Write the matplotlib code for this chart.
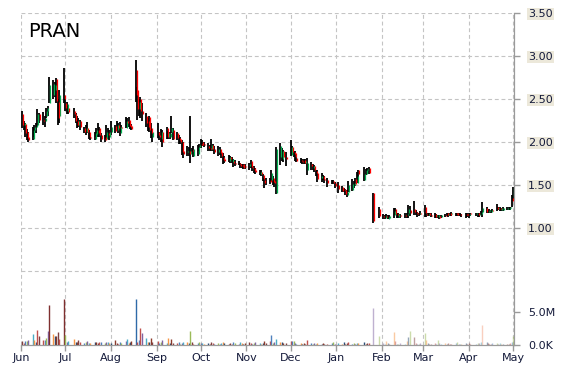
import pandas as pd
import matplotlib
matplotlib.use('Agg')
import matplotlib.pyplot as plt
from matplotlib.ticker import FuncFormatter, FixedLocator

ticker = 'PRAN'

# trading days Jun 2014 - May 2015 (holidays and days without data dropped)
holidays = ['2014-07-04', '2014-09-01', '2014-11-27', '2014-12-25', '2015-01-01',
            '2015-01-19', '2015-02-16', '2015-04-03']
missing_days = ['2015-01-27', '2015-01-28', '2015-01-29']

opens = [
    2.32, 2.20, 2.21, 2.12, 2.06, 2.03, 2.14, 2.18, 2.20, 2.32, 2.26, 2.24, 2.30, 2.36, 2.45, 2.55, 2.60, 2.73, 2.47, 2.30, 2.55,  # jun
    2.45, 2.36, 2.40, 2.36, 2.32, 2.25, 2.20, 2.24, 2.16, 2.12, 2.16, 2.12, 2.06, 2.04, 2.09, 2.14, 2.16, 2.08, 2.06, 2.04, 2.10, 2.06,  # jul
    2.12, 2.19, 2.14, 2.20, 2.10, 2.18, 2.16, 2.24, 2.26, 2.20, 2.19, 2.84, 2.60, 2.38, 2.50, 2.36, 2.30, 2.24, 2.29, 2.16, 2.06,  # aug
    2.12, 2.08, 2.04, 2.12, 2.16, 2.06, 2.06, 2.12, 2.14, 2.10, 2.05, 2.04, 2.00, 1.90, 1.88, 1.90, 1.86, 1.91, 1.84, 1.86, 1.94,  # sep
    1.98, 2.00, 1.98, 1.95, 1.93, 1.92, 1.96, 1.92, 1.88, 1.92, 1.88, 1.82, 1.80, 1.78, 1.82, 1.77, 1.78, 1.76, 1.76, 1.74, 1.73, 1.74, 1.72,  # oct
    1.72, 1.78, 1.71, 1.70, 1.67, 1.63, 1.65, 1.62, 1.56, 1.54, 1.56, 1.56, 1.58, 1.55, 1.41, 1.82, 1.80, 1.90, 1.82,  # nov
    1.85, 1.94, 1.88, 1.87, 1.81, 1.79, 1.78, 1.79, 1.76, 1.68, 1.75, 1.70, 1.72, 1.66, 1.64, 1.58, 1.60, 1.57, 1.56, 1.53, 1.55, 1.52,  # dec
    1.50, 1.48, 1.45, 1.44, 1.38, 1.42, 1.44, 1.50, 1.57, 1.52, 1.67, 1.56, 1.63, 1.68, 1.70, 1.41, 1.22,  # jan
    1.14, 1.12, 1.14, 1.11, 1.12, 1.15, 1.22, 1.16, 1.13, 1.15, 1.15, 1.15, 1.17, 1.21, 1.22, 1.19, 1.18, 1.16, 1.18,  # feb
    1.25, 1.16, 1.15, 1.17, 1.15, 1.16, 1.14, 1.13, 1.14, 1.13, 1.15, 1.17, 1.15, 1.18, 1.16, 1.17, 1.17, 1.16, 1.16, 1.15, 1.16, 1.16,  # mar
    1.15, 1.17, 1.16, 1.17, 1.15, 1.16, 1.19, 1.23, 1.19, 1.20, 1.19, 1.21, 1.25, 1.22, 1.23, 1.21, 1.21, 1.22, 1.22, 1.23, 1.35, 1.33,  # apr + may 1
]
highs = [
    2.36, 2.24, 2.22, 2.15, 2.12, 2.18, 2.20, 2.22, 2.38, 2.34, 2.35, 2.30, 2.40, 2.42, 2.76, 2.72, 2.70, 2.74, 2.50, 2.60, 2.86,
    2.50, 2.47, 2.42, 2.40, 2.34, 2.30, 2.28, 2.26, 2.18, 2.20, 2.23, 2.14, 2.10, 2.12, 2.16, 2.22, 2.18, 2.10, 2.08, 2.20, 2.16, 2.14,
    2.25, 2.20, 2.25, 2.22, 2.23, 2.20, 2.29, 2.28, 2.29, 2.23, 2.21, 2.95, 2.64, 2.50, 2.52, 2.45, 2.34, 2.28, 2.30, 2.22, 2.15,
    2.22, 2.12, 2.15, 2.14, 2.18, 2.13, 2.12, 2.30, 2.16, 2.12, 2.08, 2.06, 2.02, 2.00, 1.95, 1.94, 2.30, 1.93, 1.95, 1.96, 1.98,
    2.03, 2.02, 2.00, 1.99, 1.96, 2.04, 1.98, 1.95, 1.95, 1.94, 1.91, 1.87, 1.84, 1.85, 1.84, 1.82, 1.80, 1.79, 1.78, 1.76, 1.75, 1.75, 1.75,
    1.76, 1.79, 1.73, 1.72, 1.70, 1.67, 1.67, 1.63, 1.58, 1.58, 1.58, 1.67, 1.60, 1.57, 1.94, 1.99, 1.93, 1.91, 1.88,
    2.02, 1.95, 1.90, 1.90, 1.83, 1.81, 1.80, 1.80, 1.80, 1.81, 1.77, 1.74, 1.73, 1.68, 1.67, 1.64, 1.62, 1.60, 1.58, 1.56, 1.56, 1.53,
    1.53, 1.49, 1.46, 1.45, 1.44, 1.55, 1.57, 1.55, 1.58, 1.65, 1.68, 1.71, 1.69, 1.70, 1.71, 1.41, 1.24,
    1.16, 1.15, 1.16, 1.15, 1.15, 1.23, 1.23, 1.18, 1.18, 1.16, 1.18, 1.17, 1.27, 1.26, 1.31, 1.21, 1.19, 1.18, 1.20,
    1.27, 1.17, 1.18, 1.18, 1.17, 1.17, 1.16, 1.15, 1.15, 1.15, 1.16, 1.18, 1.17, 1.18, 1.19, 1.18, 1.18, 1.18, 1.17, 1.16, 1.18, 1.17,
    1.18, 1.18, 1.18, 1.18, 1.17, 1.20, 1.30, 1.24, 1.21, 1.22, 1.21, 1.22, 1.28, 1.25, 1.24, 1.23, 1.24, 1.25, 1.24, 1.25, 1.38, 1.48,
]
lows = [
    2.16, 2.14, 2.06, 2.02, 2.00, 2.02, 2.06, 2.10, 2.17, 2.22, 2.20, 2.18, 2.28, 2.30, 2.45, 2.50, 2.52, 2.45, 2.20, 2.22, 2.45,
    2.36, 2.32, 2.32, 2.28, 2.22, 2.16, 2.17, 2.14, 2.10, 2.08, 2.10, 2.04, 2.02, 2.02, 2.06, 2.06, 2.06, 2.00, 2.00, 2.03, 2.04, 2.02,
    2.08, 2.10, 2.14, 2.10, 2.07, 2.12, 2.16, 2.18, 2.18, 2.15, 2.14, 2.46, 2.26, 2.30, 2.28, 2.25, 2.17, 2.13, 2.12, 2.05, 2.00,
    2.05, 2.02, 2.00, 1.94, 2.04, 2.04, 2.04, 2.10, 2.02, 2.02, 1.98, 1.98, 1.85, 1.81, 1.84, 1.84, 1.76, 1.86, 1.82, 1.84, 1.90,
    1.93, 1.95, 1.94, 1.90, 1.90, 1.90, 1.90, 1.86, 1.84, 1.85, 1.81, 1.75, 1.76, 1.77, 1.76, 1.76, 1.71, 1.72, 1.73, 1.70, 1.70, 1.69, 1.69,
    1.68, 1.70, 1.66, 1.64, 1.63, 1.62, 1.61, 1.55, 1.47, 1.50, 1.51, 1.55, 1.50, 1.48, 1.40, 1.73, 1.78, 1.77, 1.72,
    1.84, 1.85, 1.82, 1.78, 1.77, 1.76, 1.75, 1.74, 1.74, 1.62, 1.68, 1.68, 1.65, 1.60, 1.54, 1.54, 1.56, 1.52, 1.48, 1.51, 1.51, 1.47,
    1.41, 1.42, 1.42, 1.38, 1.36, 1.42, 1.43, 1.46, 1.49, 1.52, 1.56, 1.55, 1.62, 1.66, 1.63, 1.06, 1.12,
    1.11, 1.11, 1.12, 1.10, 1.10, 1.12, 1.15, 1.12, 1.12, 1.12, 1.12, 1.12, 1.12, 1.14, 1.15, 1.15, 1.13, 1.14, 1.15,
    1.13, 1.13, 1.14, 1.14, 1.13, 1.12, 1.12, 1.12, 1.11, 1.12, 1.13, 1.14, 1.13, 1.14, 1.14, 1.14, 1.14, 1.14, 1.14, 1.13, 1.12, 1.13,
    1.12, 1.14, 1.14, 1.13, 1.13, 1.15, 1.13, 1.18, 1.18, 1.18, 1.18, 1.19, 1.20, 1.21, 1.20, 1.20, 1.20, 1.21, 1.21, 1.21, 1.24, 1.31,
]
closes = [
    2.20, 2.22, 2.10, 2.05, 2.02, 2.14, 2.18, 2.20, 2.32, 2.26, 2.24, 2.28, 2.36, 2.40, 2.66, 2.68, 2.66, 2.48, 2.28, 2.55, 2.50,
    2.40, 2.44, 2.35, 2.32, 2.25, 2.20, 2.24, 2.18, 2.12, 2.16, 2.12, 2.06, 2.05, 2.10, 2.14, 2.10, 2.08, 2.04, 2.02, 2.12, 2.08, 2.12,
    2.18, 2.13, 2.20, 2.16, 2.18, 2.16, 2.24, 2.22, 2.19, 2.18, 2.15, 2.55, 2.38, 2.47, 2.36, 2.32, 2.22, 2.18, 2.14, 2.10, 2.12,
    2.08, 2.06, 2.12, 2.00, 2.06, 2.10, 2.10, 2.16, 2.04, 2.05, 2.02, 2.00, 1.88, 1.86, 1.90, 1.86, 1.90, 1.89, 1.92, 1.94, 1.96,
    1.97, 1.97, 1.96, 1.93, 1.92, 1.96, 1.92, 1.88, 1.92, 1.87, 1.84, 1.79, 1.78, 1.82, 1.80, 1.80, 1.76, 1.75, 1.74, 1.72, 1.72, 1.70, 1.71,
    1.74, 1.71, 1.70, 1.66, 1.65, 1.65, 1.63, 1.57, 1.52, 1.53, 1.53, 1.64, 1.54, 1.52, 1.92, 1.95, 1.90, 1.82, 1.80,
    1.94, 1.88, 1.86, 1.83, 1.78, 1.78, 1.77, 1.76, 1.78, 1.76, 1.72, 1.72, 1.68, 1.64, 1.57, 1.60, 1.57, 1.56, 1.52, 1.54, 1.52, 1.49,
    1.45, 1.43, 1.44, 1.40, 1.42, 1.50, 1.51, 1.52, 1.51, 1.61, 1.63, 1.63, 1.67, 1.69, 1.64, 1.08, 1.14,
    1.13, 1.14, 1.13, 1.13, 1.14, 1.20, 1.16, 1.15, 1.16, 1.14, 1.14, 1.16, 1.22, 1.18, 1.19, 1.17, 1.16, 1.17, 1.16,
    1.18, 1.15, 1.16, 1.15, 1.14, 1.13, 1.15, 1.15, 1.12, 1.15, 1.14, 1.15, 1.16, 1.15, 1.17, 1.16, 1.15, 1.16, 1.15, 1.15, 1.15, 1.15,
    1.16, 1.16, 1.17, 1.15, 1.16, 1.19, 1.23, 1.19, 1.20, 1.21, 1.21, 1.20, 1.22, 1.23, 1.22, 1.23, 1.23, 1.23, 1.23, 1.24, 1.31, 1.46,
]
# volume in millions of shares
volumes = [
    0.6, 0.3, 0.6, 0.6, 0.75, 1.65, 0.8, 0.5, 2.3, 1.3, 0.8, 0.8, 1.0, 2.1, 6.1, 1.7, 1.3, 1.4, 1.9, 0.9, 7.0,
    1.5, 0.5, 0.6, 0.9, 0.4, 0.5, 0.7, 0.5, 0.3, 0.4, 0.6, 0.3, 0.3, 0.4, 0.4, 0.3, 0.5, 0.4, 0.3, 0.5, 0.4, 0.3,
    0.3, 0.75, 0.3, 0.2, 0.4, 0.3, 0.6, 0.95, 0.3, 0.4, 0.6, 7.0, 0.4, 0.8, 2.6, 1.8, 1.1, 0.4, 0.5, 1.0, 0.5,
    0.6, 0.3, 0.4, 0.8, 0.3, 1.1, 0.3, 0.9, 0.3, 0.3, 0.4, 0.2, 0.3, 0.5, 0.4, 0.3, 2.1, 0.4, 0.2, 0.3, 0.4,
    0.3, 0.3, 0.2, 0.3, 0.2, 0.5, 0.3, 0.2, 0.3, 0.2, 0.3, 0.4, 0.3, 0.2, 0.3, 0.2, 0.4, 0.3, 0.2, 0.5, 0.3, 0.2, 0.3,
    0.4, 0.3, 0.2, 0.3, 0.5, 0.3, 0.2, 0.3, 0.6, 0.3, 0.6, 1.5, 0.3, 0.4, 0.9, 0.5, 0.4, 0.3, 0.3,
    0.6, 0.6, 0.6, 0.3, 0.2, 0.3, 0.2, 0.3, 0.2, 0.75, 0.3, 0.2, 0.3, 0.2, 0.3, 0.2, 0.3, 0.2, 0.2, 0.3, 0.4, 0.2,
    0.3, 0.2, 0.4, 0.2, 0.3, 0.4, 0.2, 0.3, 0.2, 0.3, 0.3, 0.4, 0.2, 0.3, 0.3, 5.6, 1.4,
    0.3, 0.2, 0.6, 0.3, 0.2, 2.0, 0.6, 0.2, 0.2, 0.3, 0.2, 0.6, 1.2, 2.1, 1.2, 0.3, 0.2, 0.2, 0.3,
    1.8, 0.7, 0.3, 0.2, 0.2, 0.3, 0.2, 0.8, 0.3, 0.2, 0.3, 0.2, 0.3, 0.2, 0.2, 0.3, 0.4, 0.2, 0.2, 0.2, 0.3, 0.2,
    0.3, 0.2, 0.2, 0.3, 0.3, 0.4, 3.0, 0.5, 0.3, 0.2, 0.2, 0.3, 0.3, 0.2, 0.3, 0.2, 0.2, 0.2, 0.2, 0.3, 0.5, 1.4,
]
month_labels = ['Jun', 'Jul', 'Aug', 'Sep', 'Oct', 'Nov', 'Dec', 'Jan', 'Feb', 'Mar', 'Apr', 'May']
price_ticks = [1.0, 1.5, 2.0, 2.5, 3.0, 3.5]
vol_ticks = [0, 5e6]

days = pd.bdate_range('2014-06-02', '2015-05-01')
days = days.drop(pd.to_datetime(holidays + missing_days))
df = pd.DataFrame({'open': opens, 'high': highs, 'low': lows, 'close': closes,
                   'volume': [v * 1e6 for v in volumes]}, index=days)

months = pd.date_range('2014-06-01', '2015-05-01', freq='MS')

fig = plt.figure(figsize=(5.7, 3.7), dpi=100)
ax = fig.add_axes([21 / 570, 1 - 345 / 370, 493 / 570, 332 / 370])
ax2 = ax.twinx()

text_col = '#141a3a'
axis_col = '#9a9a9a'
grid_kw = dict(color='#c4c4c4', linestyle=(0, (3.5, 2.5)), linewidth=0.8)

# grid
for m in months:
    ax.axvline(m, zorder=0, **grid_kw)
for p in [0.5] + price_ticks:
    ax.axhline(p, zorder=0, **grid_kw)

# candles: black high-low line with coloured open-close body beside it
up = df['close'] >= df['open']
ax.vlines(df.index, df['low'], df['high'], color='black', linewidth=1.3, zorder=2)
body_x = df.index + pd.Timedelta(hours=16)
ax.vlines(body_x[up], df['open'][up], df['close'][up], color='#00b050', linewidth=0.9, zorder=3)
ax.vlines(body_x[~up], df['open'][~up], df['close'][~up], color='#ff0000', linewidth=0.9, zorder=3)

# volume bars, colour cycling like the source chart
palette = ['#7f3f3f', '#c0504d', '#4f81bd', '#9bbb59', '#8064a2', '#4bacc6', '#f79646', '#2c4d75', '#8b3a2a']
highlight = {'2014-06-20': '#7f2f2f', '2014-06-30': '#7f2f2f', '2014-06-12': '#c0504d',
             '2014-08-18': '#2f6aa8', '2014-08-21': '#c0504d', '2014-09-24': '#9bbb59',
             '2015-01-26': '#8064a2', '2015-02-09': '#f79646', '2015-02-20': '#9bbb59',
             '2015-03-02': '#9bbb59', '2015-04-10': '#f4a080'}
light_from = pd.Timestamp('2015-01-26')
for i, (d, v) in enumerate(zip(df.index, df['volume'])):
    c = highlight.get(d.strftime('%Y-%m-%d'), palette[i % len(palette)])
    a = 0.5 if d >= light_from else 1.0
    ax2.vlines(d, 0, v, color=c, alpha=a, linewidth=1.0)

ax.set_xlim(pd.Timestamp('2014-06-01'), pd.Timestamp('2015-05-01 16:00'))
ax.set_ylim(3.5 - 332 / 86, 3.5)
ax2.set_ylim(0, 5e6 * 332 / 33)

ax.set_xticks(months)
ax.set_xticklabels(month_labels)
ax.tick_params(axis='x', length=4, width=1, color=axis_col, labelsize=8, labelcolor=text_col, pad=2)

ax.yaxis.tick_right()
ax.yaxis.set_major_locator(FixedLocator(price_ticks))
ax.yaxis.set_major_formatter(FuncFormatter(lambda v, p: '%.2f' % v))
ax.tick_params(axis='y', length=4, width=1, color=axis_col, labelsize=8, labelcolor=text_col, pad=6)
for lab in ax.get_yticklabels():
    lab.set_bbox(dict(facecolor='#ece8da', edgecolor='none', pad=1))

ax2.yaxis.set_major_locator(FixedLocator(vol_ticks))
ax2.yaxis.set_major_formatter(FuncFormatter(lambda v, p: '0.0K' if v == 0 else '%.1fM' % (v / 1e6)))
ax2.tick_params(axis='y', length=4, width=1, color=axis_col, labelsize=8, labelcolor=text_col, pad=6)

for a in (ax, ax2):
    a.spines['left'].set_visible(False)
    a.spines['top'].set_visible(False)
    a.spines['right'].set_color(axis_col)
    a.spines['bottom'].set_color(axis_col)
    a.patch.set_visible(False)

fig.text(28 / 570, 1 - 37 / 370, ticker, fontsize=14, color='black', va='baseline')

fig.savefig('out.png', dpi=100)
